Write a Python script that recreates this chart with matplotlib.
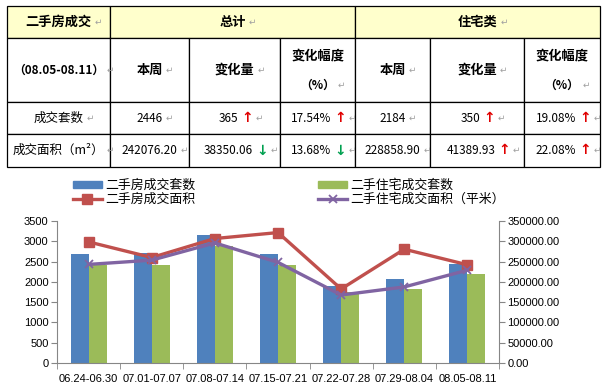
import matplotlib
matplotlib.use("Agg")
import matplotlib.pyplot as plt
from matplotlib.patches import Rectangle
from matplotlib.lines import Line2D
from matplotlib.ticker import FormatStrFormatter
import numpy as np

plt.rcParams["font.family"] = ["Noto Sans CJK SC", "DejaVu Sans"]

# ---- table data ----
header_top = ["二手房成交", "总计", "住宅类"]
period = "（08.05-08.11）"
sub_headers = ["本周", "变化量", "变化幅度"]
pct_unit = "（%）"
row_labels = ["成交套数", "成交面积（m²）"]
total_week = ["2446", "242076.20"]
total_change = ["365", "38350.06"]
total_change_dir = ["up", "down"]
total_pct = ["17.54%", "13.68%"]
total_pct_dir = ["up", "down"]
res_week = ["2184", "228858.90"]
res_change = ["350", "41389.93"]
res_change_dir = ["up", "up"]
res_pct = ["19.08%", "22.08%"]
res_pct_dir = ["up", "up"]

# ---- chart data ----
weeks = ["06.24-06.30", "07.01-07.07", "07.08-07.14", "07.15-07.21",
         "07.22-07.28", "07.29-08.04", "08.05-08.11"]
total_units = [2680, 2710, 3150, 2680, 1900, 2081, 2446]
res_units = [2420, 2415, 2880, 2415, 1760, 1834, 2184]
total_area = [298500, 260000, 306800, 321500, 182400, 280426, 242076]
res_area = [243000, 253500, 296000, 248000, 167600, 187469, 228859]

BLUE = "#4F81BD"
GREEN = "#9BBB59"
RED = "#C0504D"
PURPLE = "#8064A2"
YELLOW = "#FFFFCC"
AXIS_GREY = "#868686"

W, H = 602, 386
fig = plt.figure(figsize=(W / 100, H / 100), dpi=100)

# table drawn in pixel coordinates
tax = fig.add_axes([0, 0, 1, 1])
tax.set_xlim(0, W)
tax.set_ylim(H, 0)
tax.axis("off")

col_x = [7, 110, 189, 280, 355, 430, 524, 600]
row_y = [6, 38, 102, 134, 167]


def cell(x0, x1, y0, y1, color="white"):
    tax.add_patch(Rectangle((x0, y0), x1 - x0, y1 - y0, facecolor=color,
                            edgecolor="black", lw=0.9))


def put(x, y, s, size=8.5, weight="normal", arrow=None):
    if arrow:
        x -= 6
    t = tax.text(x, y, s, ha="center", va="center", fontsize=size,
                 fontweight=weight, color="black")
    anchor = t
    if arrow:
        anchor = tax.annotate("↑" if arrow == "up" else "↓", xy=(1, 0.5),
                              xycoords=t, xytext=(2, 0), textcoords="offset points",
                              ha="left", va="center", fontsize=10, fontweight="bold",
                              color="#E00000" if arrow == "up" else "#00A050",
                              family="DejaVu Sans")
    tax.annotate("↵", xy=(1, 0.5), xycoords=anchor, xytext=(2, 0),
                 textcoords="offset points", ha="left", va="center",
                 fontsize=6.5, color="#A0A0A0", family="DejaVu Sans")


# header row
cell(col_x[0], col_x[1], row_y[0], row_y[1], YELLOW)
cell(col_x[1], col_x[4], row_y[0], row_y[1], YELLOW)
cell(col_x[4], col_x[7], row_y[0], row_y[1], YELLOW)
for r in range(1, 4):
    for c in range(7):
        cell(col_x[c], col_x[c + 1], row_y[r], row_y[r + 1])

mid = lambda a, b: (a + b) / 2
put(mid(col_x[0], col_x[1]), mid(row_y[0], row_y[1]), header_top[0], 9.5, "bold")
put(mid(col_x[1], col_x[4]), mid(row_y[0], row_y[1]), header_top[1], 9.5, "bold")
put(mid(col_x[4], col_x[7]), mid(row_y[0], row_y[1]), header_top[2], 9.5, "bold")

put(mid(col_x[0], col_x[1]), mid(row_y[1], row_y[2]), period, 8.5, "bold")
for start in (1, 4):
    for k in range(2):
        put(mid(col_x[start + k], col_x[start + k + 1]), mid(row_y[1], row_y[2]),
            sub_headers[k], 9.5, "bold")
    xc = mid(col_x[start + 2], col_x[start + 3])
    tax.text(xc, 55, sub_headers[2], ha="center", va="center", fontsize=9.5,
             fontweight="bold")
    put(xc, 85, pct_unit, 8.5, "bold")

for i in range(2):
    yc = mid(row_y[2 + i], row_y[3 + i])
    put(mid(col_x[0], col_x[1]), yc, row_labels[i], 9)
    put(mid(col_x[1], col_x[2]), yc, total_week[i], 8.5)
    put(mid(col_x[2], col_x[3]), yc, total_change[i], 8.5, arrow=total_change_dir[i])
    put(mid(col_x[3], col_x[4]), yc, total_pct[i], 8.5, arrow=total_pct_dir[i])
    put(mid(col_x[4], col_x[5]), yc, res_week[i], 8.5)
    put(mid(col_x[5], col_x[6]), yc, res_change[i], 8.5, arrow=res_change_dir[i])
    put(mid(col_x[6], col_x[7]), yc, res_pct[i], 8.5, arrow=res_pct_dir[i])

# ---- chart ----
ax = fig.add_axes([57 / W, 23 / H, 442 / W, 142 / H])
x = np.arange(len(weeks))
bw = 0.285
ax.bar(x - bw / 2, total_units, bw, color=BLUE, zorder=2)
ax.bar(x + bw / 2, res_units, bw, color=GREEN, zorder=2)
ax.set_xlim(-0.5, len(weeks) - 0.5)
ax.set_ylim(0, 3500)
ax.set_yticks(np.arange(0, 3501, 500))
ax.set_xticks(x)
ax.set_xticklabels(weeks)
ax.set_xticks(np.arange(-0.5, len(weeks)), minor=True)
ax.tick_params(axis="x", which="major", length=0, pad=8)
ax.tick_params(axis="x", which="minor", length=4, color=AXIS_GREY)
ax.tick_params(axis="y", length=4, color=AXIS_GREY, pad=2)
for s in ("top", "right"):
    ax.spines[s].set_visible(False)
for s in ("left", "bottom"):
    ax.spines[s].set_color(AXIS_GREY)

ax2 = ax.twinx()
ax2.plot(x, total_area, color=RED, lw=2.4, marker="s", markersize=7, zorder=3)
ax2.plot(x, res_area, color=PURPLE, lw=2.4, marker="x", markersize=6,
         markeredgewidth=1.3, zorder=4)
ax2.set_ylim(0, 350000)
ax2.set_yticks(np.arange(0, 350001, 50000))
ax2.yaxis.set_major_formatter(FormatStrFormatter("%.2f"))
ax2.tick_params(axis="y", length=4, color=AXIS_GREY, pad=2)
for s in ("top", "left", "bottom"):
    ax2.spines[s].set_visible(False)
ax2.spines["right"].set_color(AXIS_GREY)

for lab in ax.get_xticklabels() + ax.get_yticklabels() + ax2.get_yticklabels():
    lab.set_family(["Liberation Sans", "DejaVu Sans"])
    lab.set_fontsize(8)

handles = [
    Rectangle((0, 0), 1, 1, color=BLUE),
    Line2D([], [], color=RED, lw=2.4, marker="s", markersize=7),
    Rectangle((0, 0), 1, 1, color=GREEN),
    Line2D([], [], color=PURPLE, lw=2.4, marker="x", markersize=6, markeredgewidth=1.3),
]
labels = ["二手房成交套数", "二手房成交面积", "二手住宅成交套数", "二手住宅成交面积（平米）"]
fig.legend(handles, labels, loc="upper left", bbox_to_anchor=(68 / W, 1 - 174 / H),
           ncol=2, frameon=False, fontsize=9.3, handlelength=2.2, handleheight=0.55,
           handletextpad=0.3, columnspacing=9.5, labelspacing=0.05, borderaxespad=0)

fig.savefig("out.png", dpi=100)
